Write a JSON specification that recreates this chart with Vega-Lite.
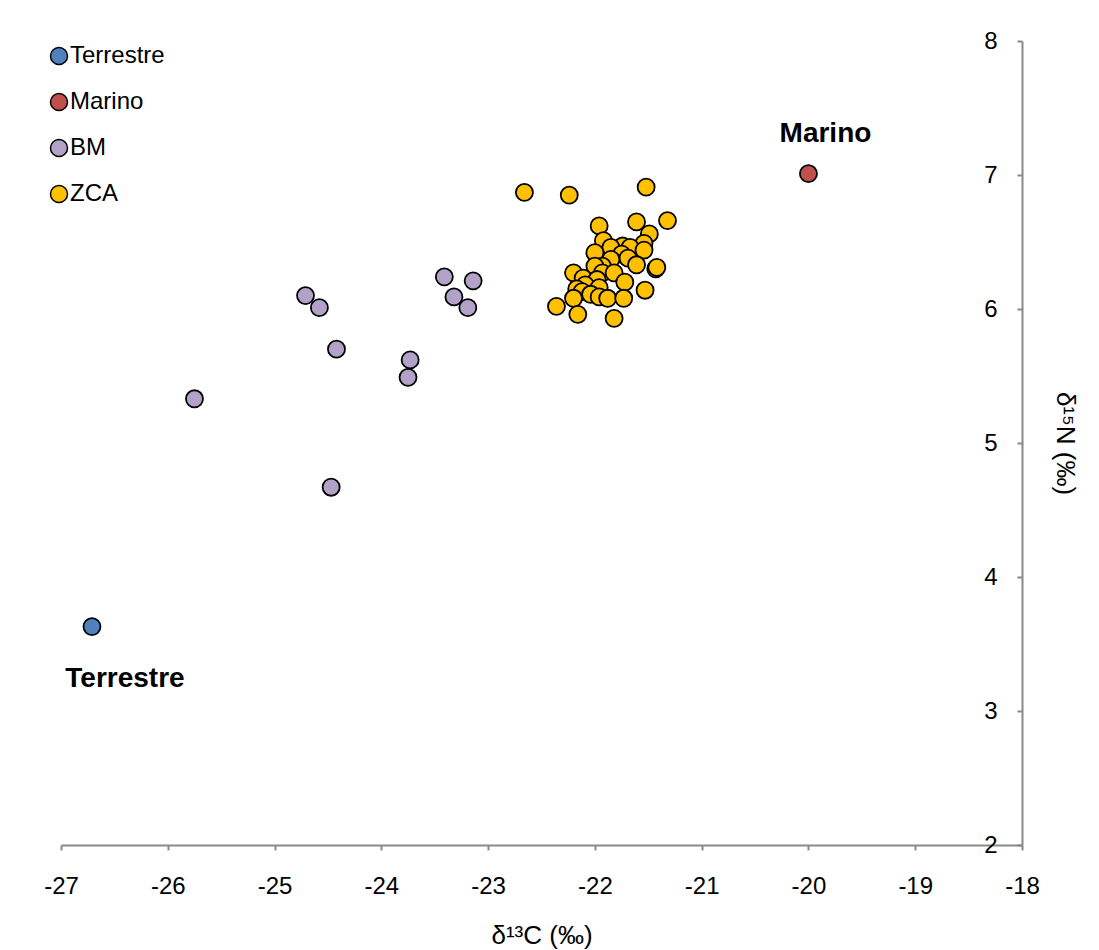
{
  "$schema": "https://vega.github.io/schema/vega-lite/v6.json",
  "width": 961,
  "height": 804,
  "autosize": {"type": "none"},
  "padding": {"left": 61, "top": 41, "right": 77, "bottom": 105},
  "background": "white",
  "config": {
    "view": {"stroke": null},
    "font": "Liberation Sans",
    "axis": {"grid": false, "domainColor": "#898989", "tickColor": "#898989", "domainWidth": 2, "tickWidth": 2, "labelColor": "black", "titleColor": "black", "labelFont": "Liberation Sans", "titleFont": "Liberation Sans"}
  },
  "data": {
    "values": [
      {"serie": "Terrestre", "d13C": -26.71, "d15N": 3.63},
      {"serie": "Marino", "d13C": -20.0, "d15N": 7.01},
      {"serie": "BM", "d13C": -25.75, "d15N": 5.33},
      {"serie": "BM", "d13C": -24.71, "d15N": 6.1},
      {"serie": "BM", "d13C": -24.58, "d15N": 6.01},
      {"serie": "BM", "d13C": -24.42, "d15N": 5.7},
      {"serie": "BM", "d13C": -24.47, "d15N": 4.67},
      {"serie": "BM", "d13C": -23.73, "d15N": 5.62},
      {"serie": "BM", "d13C": -23.75, "d15N": 5.49},
      {"serie": "BM", "d13C": -23.41, "d15N": 6.24},
      {"serie": "BM", "d13C": -23.14, "d15N": 6.21},
      {"serie": "BM", "d13C": -23.32, "d15N": 6.09},
      {"serie": "BM", "d13C": -23.19, "d15N": 6.01},
      {"serie": "ZCA", "d13C": -22.66, "d15N": 6.87},
      {"serie": "ZCA", "d13C": -22.24, "d15N": 6.85},
      {"serie": "ZCA", "d13C": -21.52, "d15N": 6.91},
      {"serie": "ZCA", "d13C": -21.32, "d15N": 6.66},
      {"serie": "ZCA", "d13C": -21.61, "d15N": 6.65},
      {"serie": "ZCA", "d13C": -21.96, "d15N": 6.62},
      {"serie": "ZCA", "d13C": -21.49, "d15N": 6.56},
      {"serie": "ZCA", "d13C": -21.92, "d15N": 6.51},
      {"serie": "ZCA", "d13C": -21.54, "d15N": 6.49},
      {"serie": "ZCA", "d13C": -21.74, "d15N": 6.47},
      {"serie": "ZCA", "d13C": -21.67, "d15N": 6.46},
      {"serie": "ZCA", "d13C": -21.54, "d15N": 6.44},
      {"serie": "ZCA", "d13C": -21.85, "d15N": 6.46},
      {"serie": "ZCA", "d13C": -22.0, "d15N": 6.42},
      {"serie": "ZCA", "d13C": -21.75, "d15N": 6.41},
      {"serie": "ZCA", "d13C": -21.69, "d15N": 6.38},
      {"serie": "ZCA", "d13C": -21.85, "d15N": 6.37},
      {"serie": "ZCA", "d13C": -21.93, "d15N": 6.32},
      {"serie": "ZCA", "d13C": -21.61, "d15N": 6.33},
      {"serie": "ZCA", "d13C": -22.0, "d15N": 6.32},
      {"serie": "ZCA", "d13C": -21.43, "d15N": 6.3},
      {"serie": "ZCA", "d13C": -21.42, "d15N": 6.31},
      {"serie": "ZCA", "d13C": -21.93, "d15N": 6.27},
      {"serie": "ZCA", "d13C": -21.82, "d15N": 6.27},
      {"serie": "ZCA", "d13C": -22.2, "d15N": 6.27},
      {"serie": "ZCA", "d13C": -22.11, "d15N": 6.23},
      {"serie": "ZCA", "d13C": -21.98, "d15N": 6.22},
      {"serie": "ZCA", "d13C": -21.72, "d15N": 6.2},
      {"serie": "ZCA", "d13C": -22.09, "d15N": 6.18},
      {"serie": "ZCA", "d13C": -21.96, "d15N": 6.16},
      {"serie": "ZCA", "d13C": -22.17, "d15N": 6.15},
      {"serie": "ZCA", "d13C": -22.12, "d15N": 6.13},
      {"serie": "ZCA", "d13C": -21.53, "d15N": 6.14},
      {"serie": "ZCA", "d13C": -22.04, "d15N": 6.11},
      {"serie": "ZCA", "d13C": -21.96, "d15N": 6.09},
      {"serie": "ZCA", "d13C": -21.88, "d15N": 6.08},
      {"serie": "ZCA", "d13C": -21.73, "d15N": 6.08},
      {"serie": "ZCA", "d13C": -22.2, "d15N": 6.08},
      {"serie": "ZCA", "d13C": -22.36, "d15N": 6.02},
      {"serie": "ZCA", "d13C": -22.16, "d15N": 5.96},
      {"serie": "ZCA", "d13C": -21.82, "d15N": 5.93}
    ]
  },
  "encoding": {
    "x": {
      "field": "d13C", "type": "quantitative",
      "scale": {"domain": [-27, -18], "nice": false, "zero": false},
      "axis": {"title": "δ¹³C (‰)", "values": [-27, -26, -25, -24, -23, -22, -21, -20, -19, -18], "labelExpr": "'' + datum.value", "tickSize": 5, "labelFontSize": 24, "labelPadding": 24, "titleFontSize": 26, "titleFontWeight": "normal", "titlePadding": 24, "labelFlush": false}
    },
    "y": {
      "field": "d15N", "type": "quantitative",
      "scale": {"domain": [2, 8], "nice": false, "zero": false},
      "axis": {"orient": "right", "title": "δ¹⁵N (‰)", "values": [2, 3, 4, 5, 6, 7, 8], "tickSize": -5, "labelAlign": "right", "labelBaseline": "middle", "labelPadding": -20, "labelFontSize": 24, "titleFontSize": 26, "titleFontWeight": "normal", "titlePadding": 28, "labelFlush": false}
    }
  },
  "layer": [
    {
      "mark": {"type": "point", "shape": "circle", "filled": true, "stroke": "black", "strokeWidth": 1.8, "opacity": 1},
      "encoding": {
        "color": {
          "field": "serie", "type": "nominal",
          "scale": {"domain": ["Terrestre", "Marino", "BM", "ZCA"], "range": ["#4F81BD", "#C0504D", "#B3A2C7", "#FFC000"]},
          "legend": {
            "title": null, "orient": "none", "legendX": -14, "legendY": 3, "padding": 0, "labelFontSize": 24, "labelFont": "Liberation Sans", "labelColor": "black", "rowPadding": 22, "labelOffset": -1, "symbolType": "circle", "symbolOpacity": 1,
            "encode": {"symbols": {"update": {"stroke": {"value": "black"}, "strokeWidth": {"value": 1.8}, "size": {"signal": "datum.value === 'BM' ? 120 : datum.value === 'ZCA' ? 100 : 250"}, "opacity": {"value": 1}}}}
          }
        },
        "size": {
          "field": "serie", "type": "nominal",
          "scale": {"domain": ["Terrestre", "Marino", "BM", "ZCA"], "range": [290, 290, 180, 130]},
          "legend": null
        }
      }
    },
    {
      "transform": [{"filter": "datum.serie === 'Marino'"}],
      "mark": {"type": "text", "fontSize": 28, "fontWeight": "bold", "font": "Liberation Sans", "dx": 17, "dy": -40, "align": "center", "baseline": "middle", "color": "black"},
      "encoding": {"text": {"field": "serie"}}
    },
    {
      "transform": [{"filter": "datum.serie === 'Terrestre'"}],
      "mark": {"type": "text", "fontSize": 28, "fontWeight": "bold", "font": "Liberation Sans", "dx": 33, "dy": 52, "align": "center", "baseline": "middle", "color": "black"},
      "encoding": {"text": {"field": "serie"}}
    }
  ]
}
